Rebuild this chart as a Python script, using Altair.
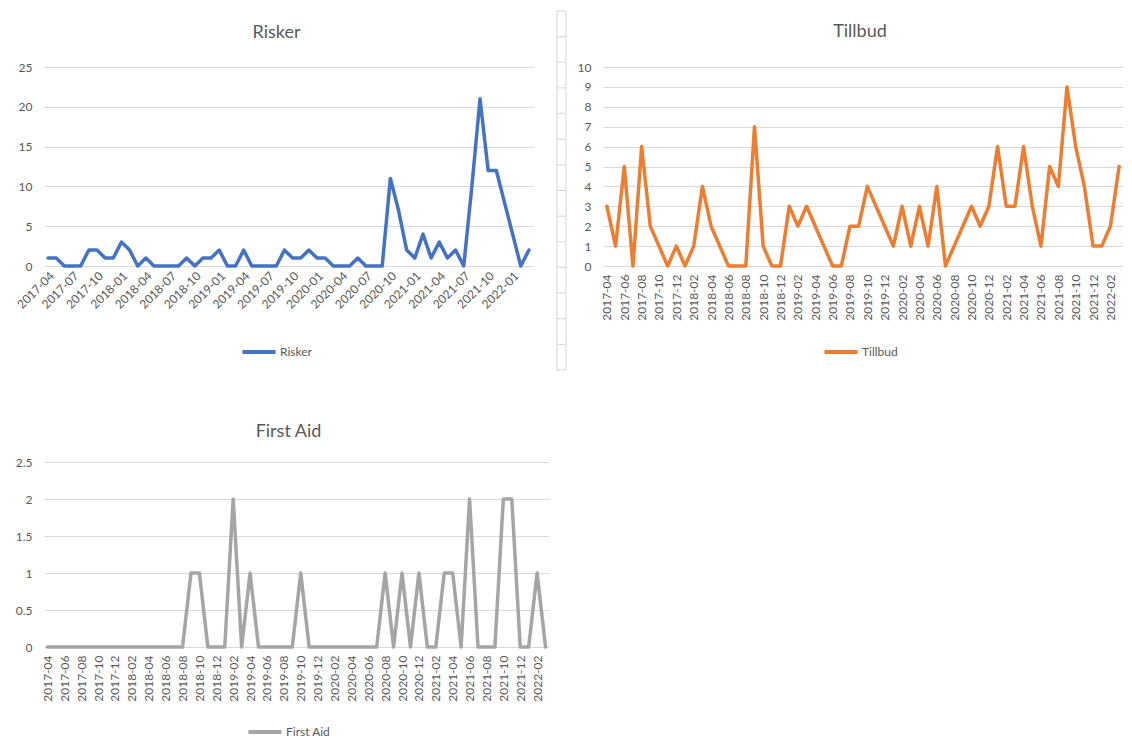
import altair as alt
import pandas as pd

months = [
    "2017-04", "2017-05", "2017-06", "2017-07", "2017-08", "2017-09", "2017-10", "2017-11", "2017-12",
    "2018-01", "2018-02", "2018-03", "2018-04", "2018-05", "2018-06", "2018-07", "2018-08", "2018-09",
    "2018-10", "2018-11", "2018-12", "2019-01", "2019-02", "2019-03", "2019-04", "2019-05", "2019-06",
    "2019-07", "2019-08", "2019-09", "2019-10", "2019-11", "2019-12", "2020-01", "2020-02", "2020-03",
    "2020-04", "2020-05", "2020-06", "2020-07", "2020-08", "2020-09", "2020-10", "2020-11", "2020-12",
    "2021-01", "2021-02", "2021-03", "2021-04", "2021-05", "2021-06", "2021-07", "2021-08", "2021-09",
    "2021-10", "2021-11", "2021-12", "2022-01", "2022-02", "2022-03",
]

risker = [1, 1, 0, 0, 0, 2, 2, 1, 1, 3, 2, 0,
          1, 0, 0, 0, 0, 1, 0, 1, 1, 2, 0, 0,
          2, 0, 0, 0, 0, 2, 1, 1, 2, 1, 1, 0,
          0, 0, 1, 0, 0, 0, 11, 7, 2, 1, 4, 1,
          3, 1, 2, 0, 10, 21, 12, 12, 8, 4, 0, 2]

tillbud = [3, 1, 5, 0, 6, 2, 1, 0, 1, 0, 1, 4,
           2, 1, 0, 0, 0, 7, 1, 0, 0, 3, 2, 3,
           2, 1, 0, 0, 2, 2, 4, 3, 2, 1, 3, 1,
           3, 1, 4, 0, 1, 2, 3, 2, 3, 6, 3, 3,
           6, 3, 1, 5, 4, 9, 6, 4, 1, 1, 2, 5]

first_aid = [0, 0, 0, 0, 0, 0, 0, 0, 0, 0, 0, 0,
             0, 0, 0, 0, 0, 1, 1, 0, 0, 0, 2, 0,
             1, 0, 0, 0, 0, 0, 1, 0, 0, 0, 0, 0,
             0, 0, 0, 0, 1, 0, 1, 0, 1, 0, 0, 1,
             1, 0, 2, 0, 0, 0, 2, 2, 0, 0, 1, 0]

risker_y_ticks = [0, 5, 10, 15, 20, 25]
tillbud_y_ticks = [0, 1, 2, 3, 4, 5, 6, 7, 8, 9, 10]
first_aid_y_ticks = [0, 0.5, 1, 1.5, 2, 2.5]

risker_x_ticks = months[0::3]
two_month_ticks = months[0::2]

# faint spreadsheet row-header strip visible between the two top charts
strip_rows = list(range(15))
strip_cols = [0, 1]

FONT = "Lato"
TXT = "#595959"
GRID = "#d9d9d9"


def panel(values, name, color, width, height, ymax, yticks, xticks, angle,
          pad, title_dx, title_offset, leg_x, leg_y, xlab_pad, ylab_pad):
    df = pd.DataFrame({"month": months, "value": values, "series": name})
    return alt.Chart(df).mark_line(
        strokeWidth=3.5, strokeJoin="round", strokeCap="round"
    ).encode(
        x=alt.X(
            "month:O", sort=months,
            scale=alt.Scale(type="point", padding=pad),
            axis=alt.Axis(values=xticks, labelAngle=angle, title=None, ticks=False,
                          domain=False, grid=False, labelFont=FONT, labelFontSize=12,
                          labelColor=TXT, labelPadding=xlab_pad, labelOverlap=False),
        ),
        y=alt.Y(
            "value:Q",
            scale=alt.Scale(domain=[0, ymax], nice=False, zero=True),
            axis=alt.Axis(values=yticks, title=None, ticks=False, domain=False,
                          gridColor=GRID, gridWidth=1, labelFont=FONT, labelFontSize=12,
                          labelColor=TXT, labelPadding=ylab_pad, format="~r"),
        ),
        color=alt.Color(
            "series:N",
            scale=alt.Scale(domain=[name], range=[color]),
            legend=alt.Legend(orient="none", legendX=leg_x, legendY=leg_y, title=None,
                              symbolType="stroke", symbolStrokeWidth=4, symbolSize=1100,
                              labelFont=FONT, labelFontSize=12, labelColor=TXT,
                              labelOffset=2, padding=0),
        ),
    ).properties(
        width=width, height=height,
        title=alt.TitleParams(name, font=FONT, fontSize=18, fontWeight="normal",
                              color=TXT, anchor="middle", frame="group",
                              dx=title_dx, offset=title_offset),
    )


risk = panel(risker, "Risker", "#4472C4", 489, 199, 25, risker_y_ticks, risker_x_ticks, 315,
             0.5, -12, 19, 196, 266, 4, 12)

till = panel(tillbud, "Tillbud", "#ED7D31", 520, 199, 10, tillbud_y_ticks, two_month_ticks, 270,
             0.45, -3, 20, 219, 266, 8, 12)

strip_h = pd.DataFrame({"row": strip_rows, "a": 0, "b": 1})
strip_v = pd.DataFrame({"col": strip_cols, "top": 14, "bottom": 0})
sx = alt.Scale(domain=[0, 1], range=[24, 33])
sy = alt.Scale(domain=[0, 14], range=[303, -56])
strip_hr = alt.Chart(strip_h).mark_rule(color="#d4d4d4", strokeWidth=1).encode(
    x=alt.X("a:Q", scale=sx, axis=None), x2="b:Q",
    y=alt.Y("row:Q", scale=sy, axis=None),
)
strip_vr = alt.Chart(strip_v).mark_rule(color="#d4d4d4", strokeWidth=1).encode(
    x=alt.X("col:Q", scale=sx, axis=None),
    y=alt.Y("bottom:Q", scale=sy, axis=None), y2="top:Q",
)
strip = alt.layer(strip_hr, strip_vr).properties(width=44, height=199)

fa = panel(first_aid, "First Aid", "#A5A5A5", 505, 185, 2.5, first_aid_y_ticks, two_month_ticks, 270,
           0.41, -8, 15, 202, 251, 8, 12)

top = alt.hconcat(risk, strip, till, spacing=0).resolve_scale(color="independent")
chart = alt.vconcat(top, fa, spacing=52).resolve_scale(color="independent").properties(
    padding={"left": 6, "top": 2, "right": 0, "bottom": 0}
).configure_view(strokeWidth=0)

chart.save("out.html", embed_options={"renderer": "svg", "actions": False})
